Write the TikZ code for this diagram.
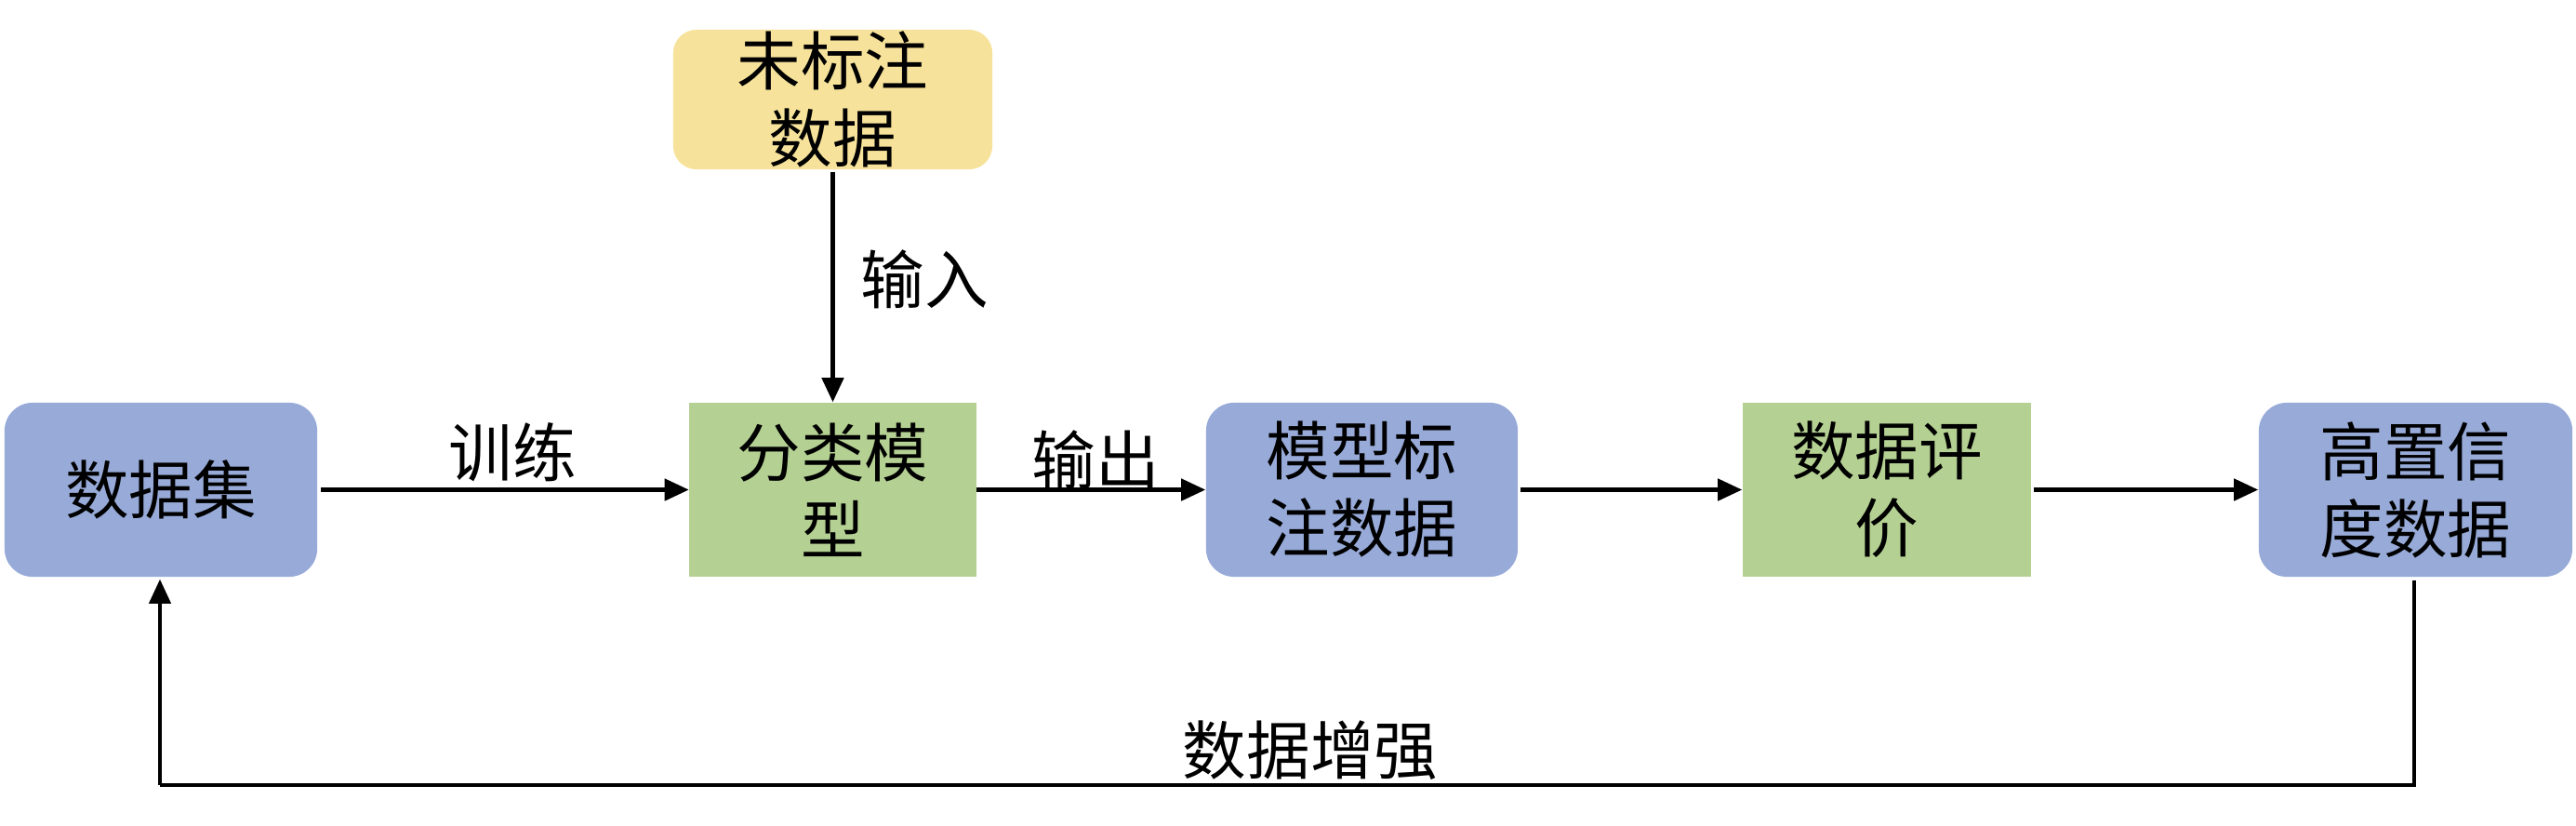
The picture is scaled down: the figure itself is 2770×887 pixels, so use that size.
\documentclass[tikz,border=0pt]{standalone}
\usepackage{fontspec}
\newfontfamily\song{Noto Sans CJK SC}
\usetikzlibrary{arrows.meta}
\definecolor{bluebox}{RGB}{151,170,216}
\definecolor{greenbox}{RGB}{180,208,146}
\definecolor{yellowbox}{RGB}{246,226,154}
\tikzset{
  base/.style={inner sep=0pt, align=center, font=\song\fontsize{19.5pt}{23.6pt}\selectfont},
  rbox/.style={base, fill=bluebox, rounded corners=0.3cm, minimum height=1.87cm},
  gbox/.style={base, fill=greenbox, minimum height=1.87cm},
  ybox/.style={base, fill=yellowbox, rounded corners=0.25cm, minimum width=3.43cm, minimum height=1.5cm},
  lbl/.style={inner sep=0pt, font=\song\fontsize{19.5pt}{23.6pt}\selectfont},
  arr/.style={line width=1.15pt, -{Triangle[length=7.4pt,width=6.6pt]}},
  fb/.style={line width=1pt}
}
\begin{document}
\begin{tikzpicture}[x=0.01cm,y=-0.01cm]
\useasboundingbox (0,0) rectangle (2770,887);
\node[rbox, minimum width=3.36cm] (ds) at (173,526.5) {数据集};
\node[gbox, minimum width=3.08cm] (cls) at (895.5,526.5) {分类模\\型};
\node[ybox] (unl) at (895.5,107) {未标注\\数据};
\node[rbox, minimum width=3.35cm] (mld) at (1464.5,526.5) {模型标\\注数据};
\node[gbox, minimum width=3.10cm] (ev) at (2029,526.5) {数据评\\价};
\node[rbox, minimum width=3.37cm] (hc) at (2597.5,526.5) {高置信\\度数据};
\draw[arr] ([xshift=0.03cm]ds.east) -- (cls.west);
\draw[arr] (cls.east) -- (mld.west);
\draw[arr] ([xshift=0.02cm]mld.east) -- (ev.west);
\draw[arr] ([xshift=0.02cm]ev.east) -- (hc.west);
\draw[arr] ([yshift=-0.02cm]unl.south) -- (cls.north);
\coordinate (c1) at (2596,844);
\coordinate (c2) at (172,844);
\draw[fb] ([yshift=-0.03cm]hc.south -| c1) -- (c1) -- (c2);
\draw[arr, line width=1pt] (c2) -- ([yshift=-0.02cm]ds.south -| c2);
\node[lbl] (t1) at (551,486) {训练};
\node[lbl] (t2) at (994,300) {输入};
\node[lbl] (t3) at (1178,494) {输出};
\node[lbl] (t4) at (1409,807) {数据增强};
\end{tikzpicture}
\end{document}
